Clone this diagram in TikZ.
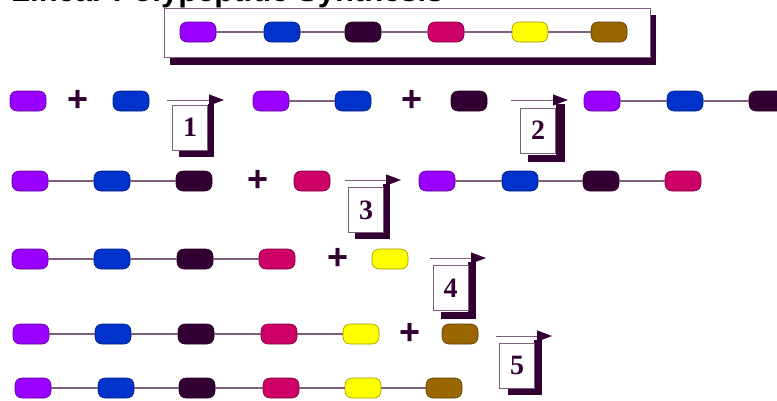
\documentclass[tikz,border=0pt]{standalone}
\usepackage{fontspec}
\setmainfont{Liberation Serif}
\setsansfont{Liberation Sans}
\usetikzlibrary{arrows.meta}

\definecolor{acPurple}{RGB}{153,0,255}
\definecolor{acBlue}{RGB}{0,51,204}
\definecolor{acDark}{RGB}{51,0,51}
\definecolor{acCrimson}{RGB}{204,0,102}
\definecolor{acYellow}{RGB}{255,255,0}
\definecolor{acBrown}{RGB}{153,102,0}
\definecolor{linkGrey}{RGB}{125,95,125}

\begin{document}
\begin{tikzpicture}[
  x=1pt, y=-1pt,
  bead/.style={rectangle, rounded corners=7pt, minimum width=36pt, minimum height=20pt, inner sep=0pt, fill=#1, draw=#1!60!black, line width=0.6pt},
  link/.style={linkGrey, line width=1.3pt},
  react/.style={linkGrey, line width=1pt, -{Triangle[length=15pt, width=11pt, color=acDark]}},
  plussign/.style={font=\sffamily\bfseries\fontsize{36}{36}\selectfont, text=acDark, inner sep=0pt},
  stepbox/.style={rectangle, draw=linkGrey, line width=0.8pt, fill=white, minimum width=35pt, minimum height=45pt, inner sep=0pt, font=\bfseries\fontsize{28}{28}\selectfont, text=acDark},
  shade/.style={fill=acDark}
]
  \useasboundingbox (0,0) rectangle (777,400);

  %% ── Title and the finished chain ──────────────────────────────────────────
  \node[anchor=base west, inner sep=0pt, font=\sffamily\bfseries\fontsize{31}{31}\selectfont] (title) at (11,1.5) {Linear Polypeptide Synthesis};
  \fill[shade] (170,15) rectangle (656,65);
  \node[rectangle, draw=linkGrey, line width=0.8pt, fill=white, minimum width=486pt, minimum height=49pt, inner sep=0pt] (frame) at (407,32.5) {};
  \node[bead=acPurple]  (c1) at (198,32) {};
  \node[bead=acBlue]    (c2) at (282,32) {};
  \node[bead=acDark]    (c3) at (363,32) {};
  \node[bead=acCrimson] (c4) at (446,32) {};
  \node[bead=acYellow]  (c5) at (530,32) {};
  \node[bead=acBrown]   (c6) at (609,32) {};
  \draw[link] (c1) -- (c2) -- (c3) -- (c4) -- (c5) -- (c6);

  %% ── Step 1 and step 2 ─────────────────────────────────────────────────────
  \node[bead=acPurple] (a1) at (28,101) {};
  \node[plussign]      (p1) at (78,101) {+};
  \node[bead=acBlue]   (a2) at (131,101) {};
  \coordinate (s1a) at (167,100);
  \coordinate (s1b) at (224,100);
  \fill[shade] (179,150) rectangle (214,157);
  \fill[shade] (208,104) rectangle (214,157);
  \node[stepbox] (s1) at (190,127.5) {1};
  \draw[react] (s1a) -- (s1b);

  \node[bead=acPurple] (b1) at (271,101) {};
  \node[bead=acBlue]   (b2) at (353,101) {};
  \node[plussign]      (p2) at (412,101) {+};
  \node[bead=acDark]   (b3) at (469,101) {};
  \draw[link] (b1) -- (b2);
  \coordinate (s2a) at (511,100);
  \coordinate (s2b) at (568,100);
  \fill[shade] (528,155) rectangle (565,162);
  \fill[shade] (556,104) rectangle (565,162);
  \node[stepbox] (s2) at (538,130.5) {2};
  \draw[react] (s2a) -- (s2b);

  \node[bead=acPurple] (d1) at (602,101) {};
  \node[bead=acBlue]   (d2) at (685,101) {};
  \node[bead=acDark]   (d3) at (767,101) {};
  \draw[link] (d1) -- (d2) -- (d3);

  %% ── Step 3 ────────────────────────────────────────────────────────────────
  \node[bead=acPurple]  (e1) at (30,181) {};
  \node[bead=acBlue]    (e2) at (112,181) {};
  \node[bead=acDark]    (e3) at (194,181) {};
  \draw[link] (e1) -- (e2) -- (e3);
  \node[plussign]       (p3) at (258,181) {+};
  \node[bead=acCrimson] (e4) at (312,181) {};
  \coordinate (s3a) at (345,180);
  \coordinate (s3b) at (401,180);
  \fill[shade] (355,232) rectangle (390,239);
  \fill[shade] (383,184) rectangle (390,239);
  \node[stepbox] (s3) at (366,210) {3};
  \draw[react] (s3a) -- (s3b);

  \node[bead=acPurple]  (f1) at (437,181) {};
  \node[bead=acBlue]    (f2) at (520,181) {};
  \node[bead=acDark]    (f3) at (601,181) {};
  \node[bead=acCrimson] (f4) at (683,181) {};
  \draw[link] (f1) -- (f2) -- (f3) -- (f4);

  %% ── Step 4 ────────────────────────────────────────────────────────────────
  \node[bead=acPurple]  (g1) at (30,259) {};
  \node[bead=acBlue]    (g2) at (112,259) {};
  \node[bead=acDark]    (g3) at (195,259) {};
  \node[bead=acCrimson] (g4) at (277,259) {};
  \draw[link] (g1) -- (g2) -- (g3) -- (g4);
  \node[plussign]       (p4) at (338,259) {+};
  \node[bead=acYellow]  (g5) at (390,259) {};
  \coordinate (s4a) at (430,258);
  \coordinate (s4b) at (486,258);
  \fill[shade] (441,312) rectangle (476,319);
  \fill[shade] (468,262) rectangle (476,319);
  \node[stepbox] (s4) at (450.5,288) {4};
  \draw[react] (s4a) -- (s4b);

  %% ── Step 5 and the result ─────────────────────────────────────────────────
  \node[bead=acPurple]  (h1) at (31,334) {};
  \node[bead=acBlue]    (h2) at (113,334) {};
  \node[bead=acDark]    (h3) at (196,334) {};
  \node[bead=acCrimson] (h4) at (279,334) {};
  \node[bead=acYellow]  (h5) at (361,334) {};
  \draw[link] (h1) -- (h2) -- (h3) -- (h4) -- (h5);
  \node[plussign]       (p5) at (410,334) {+};
  \node[bead=acBrown]   (h6) at (460,334) {};
  \coordinate (s5a) at (496,336);
  \coordinate (s5b) at (552,336);
  \fill[shade] (508,388) rectangle (542,395);
  \fill[shade] (534,340) rectangle (542,395);
  \node[stepbox] (s5) at (517,365.5) {5};
  \draw[react] (s5a) -- (s5b);

  \node[bead=acPurple]  (k1) at (33,388) {};
  \node[bead=acBlue]    (k2) at (116,388) {};
  \node[bead=acDark]    (k3) at (197,388) {};
  \node[bead=acCrimson] (k4) at (281,388) {};
  \node[bead=acYellow]  (k5) at (363,388) {};
  \node[bead=acBrown]   (k6) at (444,388) {};
  \draw[link] (k1) -- (k2) -- (k3) -- (k4) -- (k5) -- (k6);
\end{tikzpicture}
\end{document}
